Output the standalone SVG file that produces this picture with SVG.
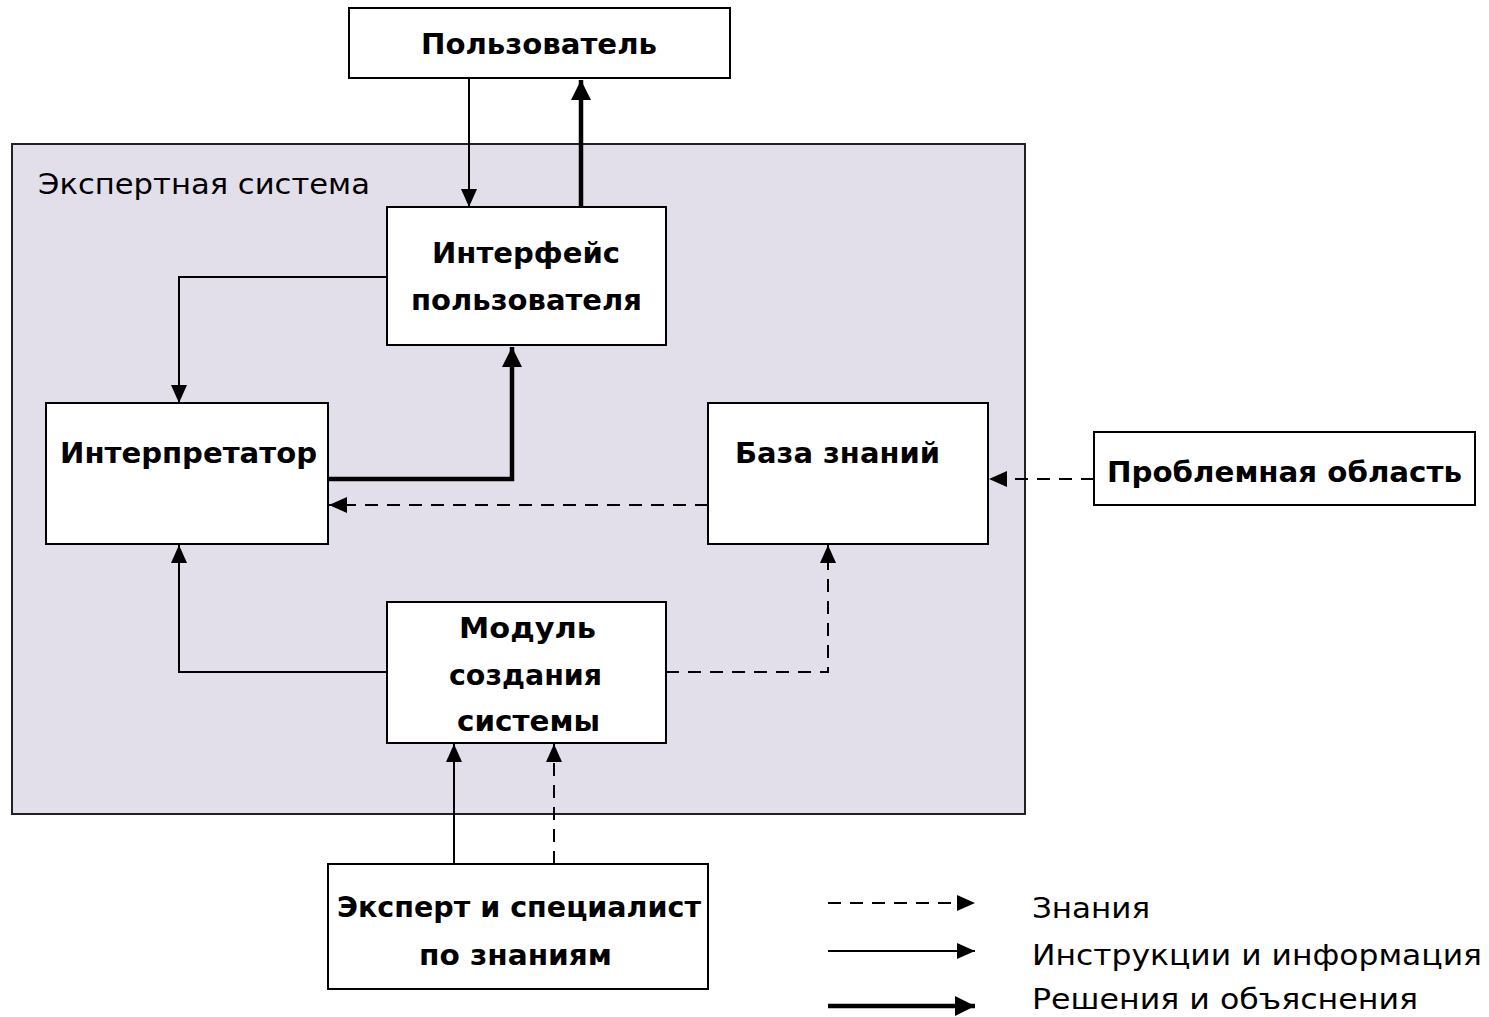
<svg xmlns="http://www.w3.org/2000/svg" width="1489" height="1017" viewBox="0 0 1489 1017">
<defs>
<style>
.box{fill:#fff;stroke:#000;stroke-width:2}
.sys{fill:#e3dfea;stroke:#222;stroke-width:2}
.t{font-family:"DejaVu Sans","Liberation Sans",sans-serif;font-weight:bold;font-size:29px;fill:#000}
.r{font-family:"DejaVu Sans","Liberation Sans",sans-serif;font-size:28px;fill:#000}
.thin{fill:none;stroke:#000;stroke-width:2}
.thick{fill:none;stroke:#000;stroke-width:4.5}
.dash{fill:none;stroke:#000;stroke-width:2;stroke-dasharray:13 9}
</style>
<marker id="ah" viewBox="0 0 18 18" refX="18" refY="9" markerWidth="18" markerHeight="18" markerUnits="userSpaceOnUse" orient="auto">
<path d="M0,1 L18,9 L0,17 Z" fill="#000"/>
</marker>
<marker id="ahk" viewBox="0 0 20 20" refX="20" refY="10" markerWidth="20" markerHeight="20" markerUnits="userSpaceOnUse" orient="auto">
<path d="M0,0 L20,10 L0,20 Z" fill="#000"/>
</marker>
</defs>
<rect width="1489" height="1017" fill="#fff"/>
<g id="system">
<rect class="sys" x="12" y="144" width="1013" height="670"/>
<text class="r" x="38" y="194" textLength="332" lengthAdjust="spacingAndGlyphs">Экспертная система</text>
</g>
<g id="user">
<rect class="box" x="349" y="8" width="381" height="70"/>
<text class="t" x="421" y="54" textLength="236" lengthAdjust="spacingAndGlyphs">Пользователь</text>
</g>
<g id="interface">
<rect class="box" x="387" y="207" width="279" height="138"/>
<text class="t" x="432" y="263" textLength="188" lengthAdjust="spacingAndGlyphs">Интерфейс</text>
<text class="t" x="411" y="310" textLength="231" lengthAdjust="spacingAndGlyphs">пользователя</text>
</g>
<g id="interpreter">
<rect class="box" x="46" y="403" width="282" height="141"/>
<text class="t" x="60" y="463" textLength="257" lengthAdjust="spacingAndGlyphs">Интерпретатор</text>
</g>
<g id="kb">
<rect class="box" x="708" y="403" width="280" height="141"/>
<text class="t" x="735" y="463" textLength="205" lengthAdjust="spacingAndGlyphs">База знаний</text>
</g>
<g id="domain">
<rect class="box" x="1094" y="432" width="381" height="73"/>
<text class="t" x="1107" y="482" textLength="355" lengthAdjust="spacingAndGlyphs">Проблемная область</text>
</g>
<g id="module">
<rect class="box" x="387" y="602" width="279" height="141"/>
<text class="t" x="459" y="638" textLength="137" lengthAdjust="spacingAndGlyphs">Модуль</text>
<text class="t" x="449" y="685" textLength="153" lengthAdjust="spacingAndGlyphs">создания</text>
<text class="t" x="457" y="731" textLength="143" lengthAdjust="spacingAndGlyphs">системы</text>
</g>
<g id="expert">
<rect class="box" x="328" y="864" width="380" height="125"/>
<text class="t" x="337" y="917" textLength="364" lengthAdjust="spacingAndGlyphs">Эксперт и специалист</text>
<text class="t" x="419" y="965" textLength="193" lengthAdjust="spacingAndGlyphs">по знаниям</text>
</g>
<g id="connectors">
<path class="thin" d="M469,78 V207" marker-end="url(#ah)"/>
<path class="thick" d="M581,207 V80" marker-end="url(#ahk)"/>
<path class="thin" d="M387,277 H179 V403" marker-end="url(#ah)"/>
<path class="thick" d="M328,479 H512 V347" marker-end="url(#ahk)"/>
<path class="dash" d="M708,505 H329" marker-end="url(#ah)"/>
<path class="dash" d="M1094,479 H989" marker-end="url(#ah)"/>
<path class="thin" d="M387,672 H179 V545" marker-end="url(#ah)"/>
<path class="dash" d="M666,672 H828 V545" marker-end="url(#ah)"/>
<path class="thin" d="M454,864 V744" marker-end="url(#ah)"/>
<path class="dash" d="M554,864 V744" marker-end="url(#ah)"/>
</g>
<g id="legend">
<path class="dash" d="M828,903 H975" marker-end="url(#ah)"/>
<path class="thin" d="M828,951 H975" marker-end="url(#ah)"/>
<path class="thick" d="M828,1006 H975" marker-end="url(#ahk)"/>
<text class="r" x="1032" y="918" textLength="118" lengthAdjust="spacingAndGlyphs">Знания</text>
<text class="r" x="1032" y="965" textLength="450" lengthAdjust="spacingAndGlyphs">Инструкции и информация</text>
<text class="r" x="1032" y="1009" textLength="386" lengthAdjust="spacingAndGlyphs">Решения и объяснения</text>
</g>
</svg>
